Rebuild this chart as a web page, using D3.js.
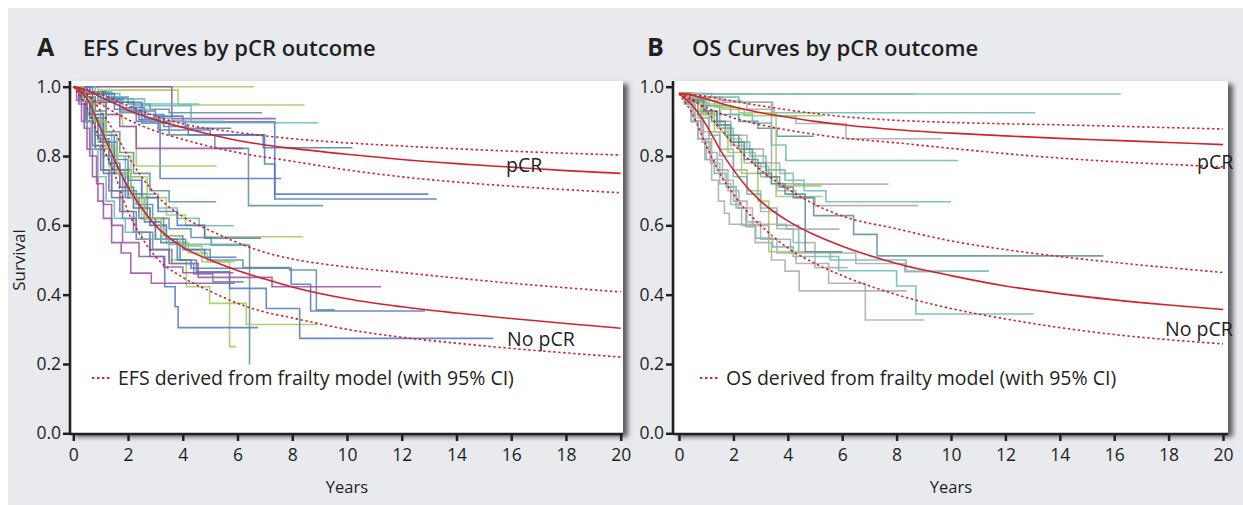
<!DOCTYPE html>
<html>
<head>
<meta charset="utf-8">
<script src="https://cdn.jsdelivr.net/npm/d3@7"></script>
<style>
  body { margin: 0; background: #fff; }
  text { font-family: "Open Sans", "Noto Sans", sans-serif; fill: #231f20; }
</style>
</head>
<body>
<div id="chart"></div>
<script>
// ---- data ----
var yearTicks = [0, 2, 4, 6, 8, 10, 12, 14, 16, 18, 20];
var survivalTicks = [0, 0.2, 0.4, 0.6, 0.8, 1.0];

// frailty model curves [years, survival]
var efsModelPcr = [[0,1],[0.5,0.99],[1,0.97],[1.5,0.952],[2,0.932],[3,0.905],[4,0.882],[5,0.862],[6,0.845],[7,0.832],[8,0.822],[10,0.805],[12,0.79],[14,0.778],[16,0.768],[18,0.758],[20,0.75]];
var efsModelPcrHi = [[0,1],[1,0.978],[2,0.945],[3,0.915],[4,0.893],[6,0.868],[8,0.85],[10,0.838],[12,0.829],[14,0.821],[16,0.814],[18,0.808],[20,0.803]];
var efsModelPcrLo = [[0,1],[0.5,0.975],[1,0.95],[2,0.905],[3,0.872],[4,0.848],[6,0.81],[8,0.785],[10,0.76],[12,0.74],[14,0.725],[16,0.713],[18,0.703],[20,0.694]];
var efsModelNo = [[0,1],[0.5,0.965],[1,0.88],[1.5,0.79],[2,0.71],[2.5,0.65],[3,0.6],[4,0.537],[5,0.5],[6,0.47],[7,0.445],[8,0.422],[10,0.388],[12,0.365],[14,0.347],[16,0.331],[18,0.317],[20,0.303]];
var efsModelNoHi = [[0,1],[0.5,0.98],[1,0.93],[1.5,0.87],[2,0.8],[2.5,0.74],[3,0.69],[4,0.625],[5,0.585],[6,0.55],[7,0.522],[8,0.503],[10,0.48],[12,0.464],[14,0.448],[16,0.433],[18,0.42],[20,0.408]];
var efsModelNoLo = [[0,1],[0.5,0.94],[1,0.84],[1.5,0.75],[2,0.64],[2.5,0.565],[3,0.51],[4,0.45],[5,0.41],[6,0.375],[7,0.35],[8,0.333],[10,0.3],[12,0.277],[14,0.26],[16,0.245],[18,0.232],[20,0.22]];

var osModelPcr = [[0,0.98],[0.5,0.975],[1,0.965],[1.5,0.953],[2,0.942],[3,0.925],[4,0.912],[5,0.9],[6,0.89],[8,0.876],[10,0.866],[12,0.858],[14,0.851],[16,0.845],[18,0.839],[20,0.833]];
var osModelPcrHi = [[0,0.98],[1,0.972],[2,0.958],[3,0.945],[4,0.933],[6,0.914],[8,0.903],[10,0.897],[12,0.893],[14,0.89],[16,0.886],[18,0.882],[20,0.878]];
var osModelPcrLo = [[0,0.98],[1,0.94],[2,0.91],[3,0.89],[4,0.875],[6,0.852],[8,0.838],[10,0.822],[12,0.807],[14,0.794],[16,0.784],[18,0.776],[20,0.769]];
var osModelNo = [[0,0.98],[0.5,0.945],[1,0.89],[1.5,0.82],[2,0.76],[2.5,0.71],[3,0.67],[4,0.613],[5,0.572],[6,0.54],[7,0.513],[8,0.49],[10,0.455],[12,0.425],[14,0.403],[16,0.385],[18,0.37],[20,0.357]];
var osModelNoHi = [[0,0.98],[0.5,0.965],[1,0.93],[1.5,0.88],[2,0.835],[3,0.76],[4,0.705],[5,0.66],[6,0.627],[8,0.59],[10,0.555],[12,0.53],[14,0.51],[16,0.493],[18,0.478],[20,0.464]];
var osModelNoLo = [[0,0.98],[0.5,0.92],[1,0.83],[1.5,0.75],[2,0.69],[2.5,0.64],[3,0.6],[4,0.535],[5,0.49],[6,0.455],[8,0.4],[10,0.36],[12,0.33],[14,0.305],[16,0.285],[18,0.27],[20,0.258]];

// trial-level Kaplan-Meier steps [years, survival], last point = censoring end
var efsKmPcr = [
  [[0,1],[6.6,1]],
  [[0,1],[0.9,0.99],[3.83,0.947],[8.45,0.947]],
  [[0,1],[3.6,0.908],[7.4,0.908]],
  [[0,1],[0.6,0.985],[1.4,0.965],[2.2,0.945],[4.3,0.896],[8.95,0.896]],
  [[0,1],[0.5,0.985],[1.2,0.97],[2.0,0.95],[2.8,0.935],[3.5,0.925],[6.9,0.925]],
  [[0,1],[0.8,0.98],[1.7,0.965],[2.6,0.95],[4.6,0.95]],
  [[0,1],[0.5,0.985],[1.1,0.965],[1.8,0.94],[2.6,0.91],[3.3,0.885],[4.2,0.861],[6.94,0.824],[10.2,0.824]],
  [[0,1],[0.4,0.985],[1.0,0.96],[1.7,0.93],[2.4,0.905],[3.17,0.735],[7.6,0.735]],
  [[0,1],[0.6,0.98],[1.3,0.955],[2.2,0.93],[3.0,0.915],[4.0,0.899],[7.36,0.676],[13.28,0.676]],
  [[0,1],[0.3,0.985],[0.9,0.96],[1.5,0.935],[2.3,0.9],[3.1,0.875],[5.0,0.861],[6.99,0.777],[7.36,0.69],[12.97,0.69]],
  [[0,1],[0.4,0.98],[1.0,0.955],[1.7,0.925],[2.5,0.895],[3.5,0.861],[5.17,0.822],[6.4,0.657],[9.12,0.657]],
  [[0,1],[0.3,0.98],[0.7,0.95],[1.2,0.92],[1.8,0.885],[2.3,0.771],[5.24,0.771]],
  [[0,1],[0.3,0.98],[0.7,0.955],[1.2,0.92],[1.7,0.885],[2.3,0.822],[6.2,0.822]],
  [[0,1],[0.7,0.98],[1.5,0.955],[2.5,0.92],[3.3,0.9],[4.1,0.88],[5.77,0.88]],
  [[0,1],[0.4,0.985],[1.0,0.96],[1.8,0.935],[2.7,0.91],[3.6,0.9],[5.5,0.9]]
];
var efsKmPcrColors = ["green","green","purple","teal","slate","teal","blue","blue","blue","blue","slate","green","purple","blue","teal"];

var efsKmNo = [
  [[0,1],[0.25,0.97],[0.5,0.92],[0.8,0.86],[1.1,0.8],[1.4,0.75],[1.8,0.7],[2.3,0.66],[2.9,0.62],[3.5,0.59],[4.3,0.565],[5.04,0.543],[6.44,0.2],[6.45,0.2]],
  [[0,1],[0.3,0.96],[0.6,0.9],[0.9,0.84],[1.3,0.77],[1.7,0.71],[2.2,0.65],[2.8,0.6],[3.4,0.55],[4.2,0.52],[4.9,0.495],[5.71,0.25],[5.96,0.25]],
  [[0,1],[0.25,0.96],[0.5,0.9],[0.8,0.82],[1.1,0.75],[1.4,0.68],[1.8,0.62],[2.3,0.56],[2.8,0.51],[3.34,0.423],[3.72,0.365],[3.83,0.305],[6.75,0.305]],
  [[0,1],[0.3,0.97],[0.7,0.9],[1.1,0.83],[1.5,0.76],[2.0,0.69],[2.5,0.62],[3.0,0.56],[3.5,0.5],[4.13,0.423],[4.98,0.375],[6.32,0.314],[8.94,0.314]],
  [[0,1],[0.3,0.97],[0.6,0.92],[1.0,0.84],[1.4,0.76],[1.9,0.68],[2.4,0.62],[3.0,0.56],[3.8,0.5],[4.5,0.466],[5.71,0.418],[7.05,0.36],[8.27,0.274],[15.35,0.274]],
  [[0,1],[0.35,0.96],[0.7,0.9],[1.1,0.82],[1.5,0.75],[2.0,0.68],[2.6,0.61],[3.2,0.55],[3.9,0.5],[4.3,0.476],[7.96,0.43],[8.67,0.353],[12.85,0.353]],
  [[0,1],[0.3,0.97],[0.7,0.91],[1.1,0.84],[1.6,0.76],[2.1,0.69],[2.7,0.62],[3.3,0.57],[4.0,0.53],[5.0,0.5],[6.2,0.478],[7.9,0.471],[8.88,0.356],[9.55,0.356]],
  [[0,1],[0.2,0.96],[0.45,0.9],[0.7,0.83],[1.0,0.76],[1.3,0.7],[1.7,0.64],[2.2,0.58],[2.8,0.53],[3.5,0.49],[4.56,0.45],[7.26,0.423],[11.25,0.423]],
  [[0,1],[0.12,0.96],[0.3,0.9],[0.5,0.82],[0.7,0.74],[0.9,0.67],[1.1,0.62],[1.4,0.55],[1.75,0.52],[2.1,0.462],[2.85,0.433],[5.9,0.433]],
  [[0,1],[0.3,0.97],[0.6,0.93],[1.0,0.87],[1.4,0.8],[1.9,0.74],[2.5,0.69],[3.1,0.65],[3.8,0.62],[4.6,0.599],[5.87,0.599]],
  [[0,1],[0.4,0.97],[0.8,0.92],[1.2,0.86],[1.6,0.8],[2.1,0.74],[2.7,0.68],[3.4,0.63],[4.1,0.6],[4.8,0.567],[8.39,0.567]],
  [[0,1],[0.3,0.97],[0.7,0.92],[1.1,0.86],[1.5,0.79],[2.0,0.73],[2.5,0.68],[3.1,0.64],[3.8,0.6],[4.8,0.563],[6.85,0.563]],
  [[0,1],[0.4,0.97],[0.8,0.93],[1.2,0.87],[1.7,0.81],[2.2,0.75],[2.8,0.7],[3.5,0.668],[5.22,0.668]],
  [[0,1],[0.2,0.96],[0.5,0.9],[0.8,0.83],[1.1,0.76],[1.4,0.7],[1.8,0.64],[2.3,0.58],[2.9,0.53],[3.6,0.49],[4.4,0.46],[5.1,0.437],[6.22,0.437]],
  [[0,1],[0.3,0.96],[0.6,0.91],[0.9,0.85],[1.3,0.78],[1.7,0.71],[2.2,0.65],[2.8,0.6],[3.4,0.56],[4.1,0.53],[4.8,0.508],[5.96,0.508]],
  [[0,1],[0.2,0.96],[0.4,0.9],[0.65,0.82],[0.9,0.74],[1.2,0.67],[1.5,0.62],[1.9,0.58],[2.5,0.56],[3.5,0.545],[6.3,0.545]],
  [[0,1],[0.2,0.95],[0.4,0.88],[0.6,0.8],[0.85,0.72],[1.1,0.66],[1.4,0.6],[1.8,0.55],[2.4,0.51],[3.3,0.48],[4.0,0.463],[5.85,0.463]],
  [[0,1],[0.35,0.96],[0.75,0.9],[1.2,0.82],[1.6,0.75],[2.1,0.68],[2.6,0.62],[3.2,0.57],[3.9,0.54],[4.7,0.495],[5.9,0.495]]
];
var efsKmNoColors = ["slate","green","blue","green","blue","blue","slate","purple","purple","teal","green","blue","slate","slate","blue","teal","purple","green"];

var osKmPcr = [
  [[0,0.979],[8.6,0.979]],
  [[0,0.979],[16.24,0.979]],
  [[0,0.98],[1.2,0.97],[2.2,0.955],[3.44,0.925],[13.1,0.925]],
  [[0,0.98],[0.8,0.97],[1.6,0.955],[2.5,0.935],[3.5,0.915],[4.3,0.894],[6.14,0.85],[9.66,0.85]],
  [[0,0.98],[0.5,0.965],[1.0,0.95],[1.6,0.935],[2.4,0.916],[5.28,0.916]],
  [[0,0.98],[0.4,0.965],[0.9,0.945],[1.5,0.92],[2.2,0.9],[2.9,0.88],[3.6,0.857],[4.97,0.857]],
  [[0,0.98],[0.5,0.965],[1.1,0.945],[1.9,0.92],[2.7,0.895],[3.4,0.832],[3.93,0.787],[10.27,0.787]],
  [[0,0.98],[0.4,0.96],[0.9,0.93],[1.4,0.9],[1.9,0.86],[2.5,0.82],[3.1,0.78],[3.7,0.75],[4.2,0.719],[7.7,0.719]],
  [[0,0.98],[0.4,0.955],[0.8,0.925],[1.3,0.89],[1.8,0.85],[2.3,0.81],[2.8,0.77],[3.3,0.74],[3.6,0.714],[5.25,0.714]],
  [[0,0.98],[0.6,0.96],[1.3,0.94],[2.2,0.925],[3.57,0.683],[5.28,0.683]],
  [[0,0.98],[0.5,0.955],[1.0,0.92],[1.5,0.88],[2.0,0.84],[2.6,0.8],[3.2,0.76],[3.9,0.73],[4.6,0.7],[5.4,0.668],[10.0,0.668]],
  [[0,0.98],[0.4,0.955],[0.9,0.92],[1.4,0.88],[1.9,0.83],[2.4,0.78],[3.0,0.74],[3.6,0.7],[4.3,0.68],[5.0,0.657],[8.8,0.657]],
  [[0,0.98],[0.6,0.97],[1.4,0.96],[2.3,0.955],[3.4,0.72],[4.5,0.72]]
];
var osKmPcrColors = ["grey","teal","teal","grey","green","slate","teal","grey","green","green","teal","grey","grey"];

var osKmNo = [
  [[0,0.98],[0.3,0.96],[0.7,0.93],[1.2,0.9],[1.7,0.86],[2.2,0.82],[2.7,0.78],[3.2,0.74],[3.7,0.71],[4.2,0.68],[4.95,0.628],[6.42,0.574],[7.28,0.512],[15.6,0.512]],
  [[0,0.98],[0.3,0.955],[0.7,0.91],[1.1,0.86],[1.5,0.8],[2.0,0.74],[2.5,0.69],[3.0,0.65],[3.6,0.6],[4.4,0.524],[5.56,0.5],[8.35,0.468],[11.4,0.468]],
  [[0,0.98],[0.2,0.95],[0.45,0.9],[0.7,0.85],[1.0,0.79],[1.3,0.75],[1.73,0.711],[2.1,0.65],[2.46,0.596],[2.82,0.563],[3.44,0.538],[4.2,0.51],[5.87,0.469],[8.0,0.425],[8.71,0.344],[13.04,0.344]],
  [[0,0.98],[0.3,0.95],[0.6,0.9],[0.9,0.85],[1.2,0.79],[1.6,0.73],[2.0,0.67],[2.5,0.61],[3.0,0.56],[3.6,0.52],[4.3,0.49],[5.5,0.433],[6.85,0.327],[9.02,0.327]],
  [[0,0.98],[0.25,0.95],[0.55,0.9],[0.85,0.84],[1.15,0.78],[1.5,0.72],[1.9,0.66],[2.3,0.6],[2.8,0.55],[3.4,0.5],[3.9,0.468],[4.42,0.411],[8.37,0.411]],
  [[0,0.98],[0.3,0.96],[0.7,0.92],[1.1,0.87],[1.5,0.82],[2.0,0.76],[2.5,0.7],[3.0,0.64],[3.6,0.59],[4.2,0.55],[5.0,0.52],[6.5,0.49],[8.3,0.466],[9.7,0.466]],
  [[0,0.98],[0.4,0.96],[0.8,0.92],[1.3,0.87],[1.8,0.81],[2.3,0.75],[2.9,0.67],[3.3,0.524],[6.02,0.524]],
  [[0,0.98],[0.4,0.96],[0.9,0.93],[1.4,0.89],[1.9,0.84],[2.4,0.79],[2.9,0.75],[3.4,0.72],[3.9,0.69],[4.64,0.524],[6.0,0.524]],
  [[0,0.98],[0.2,0.95],[0.45,0.9],[0.7,0.85],[0.95,0.79],[1.2,0.73],[1.45,0.67],[1.67,0.635],[1.85,0.603],[3.95,0.589],[5.9,0.589]],
  [[0,0.98],[0.25,0.955],[0.5,0.92],[0.8,0.87],[1.1,0.81],[1.4,0.76],[1.8,0.7],[2.2,0.65],[2.7,0.6],[3.3,0.56],[4.1,0.52],[5.0,0.478],[6.2,0.478]]
];
var osKmNoColors = ["slate","teal","teal","grey","grey","grey","green","slate","grey","grey"];

// ---- styles ----
var palette = {
  blue: "#4f74c4", purple: "#9a4ea6", green: "#9dcb5a", teal: "#66b9b5",
  slate: "#5d8c98", grey: "#a9a9a9"
};
var red = "#d2232a";
var ink = "#231f20";

var svg = d3.select("#chart").append("svg")
  .attr("width", 1243)
  .attr("height", 505);

// drop shadow for the plot boxes
var defs = svg.append("defs");
var filt = defs.append("filter").attr("id", "shadow")
  .attr("x", "-5%").attr("y", "-5%").attr("width", "115%").attr("height", "115%");
filt.append("feDropShadow")
  .attr("dx", 5).attr("dy", 3)
  .attr("stdDeviation", 2.5)
  .attr("flood-color", "#000")
  .attr("flood-opacity", 0.6);

svg.append("rect")
  .attr("x", 8).attr("y", 8)
  .attr("width", 1235).attr("height", 497)
  .attr("fill", "#e8eaee");

var panels = [
  {
    letter: "A", letterX: 37, title: "EFS Curves by pCR outcome", titleX: 83,
    box: [70, 81, 623, 434], xRange: [73.3, 620.7],
    legend: "EFS derived from frailty model (with 95% CI)", legendX: 92,
    yLabel: "Survival",
    models: [efsModelPcr, efsModelNo], cis: [efsModelPcrHi, efsModelPcrLo, efsModelNoHi, efsModelNoLo],
    km: [efsKmPcr, efsKmNo], kmColors: [efsKmPcrColors, efsKmNoColors],
    pcrLabel: [506, 172], noLabel: [507, 346]
  },
  {
    letter: "B", letterX: 647, title: "OS Curves by pCR outcome", titleX: 692,
    box: [673, 81, 1228, 434], xRange: [679, 1223],
    legend: "OS derived from frailty model (with 95% CI)", legendX: 700,
    yLabel: null,
    models: [osModelPcr, osModelNo], cis: [osModelPcrHi, osModelPcrLo, osModelNoHi, osModelNoLo],
    km: [osKmPcr, osKmNo], kmColors: [osKmPcrColors, osKmNoColors],
    pcrLabel: [1197, 169], noLabel: [1165, 336]
  }
];

panels.forEach(function (p) {
  var g = svg.append("g");
  var b = p.box;

  var x = d3.scaleLinear().domain([0, 20]).range(p.xRange);
  var y = d3.scaleLinear().domain([0, 1]).range([433.3, 86.7]);

  // titles
  g.append("text").attr("x", p.letterX).attr("y", 56)
    .attr("font-size", 25).attr("font-weight", 700).text(p.letter);
  g.append("text").attr("x", p.titleX).attr("y", 56)
    .attr("font-size", 22).attr("font-weight", 600).text(p.title);

  // plot box
  g.append("rect")
    .attr("x", b[0]).attr("y", b[1])
    .attr("width", b[2] - b[0]).attr("height", b[3] - b[1])
    .attr("fill", "#fff")
    .attr("filter", "url(#shadow)");

  // KM step curves
  var step = d3.line()
    .x(function (d) { return x(d[0]); })
    .y(function (d) { return y(d[1]); })
    .curve(d3.curveStepAfter);

  p.km.forEach(function (group, gi) {
    g.append("g").selectAll("path")
      .data(group)
      .enter()
      .append("path")
      .attr("d", step)
      .attr("fill", "none")
      .attr("stroke", function (d, i) { return palette[p.kmColors[gi][i]]; })
      .attr("stroke-width", 1.6)
      .attr("opacity", 0.85);
  });

  // frailty model curves
  var smooth = d3.line()
    .x(function (d) { return x(d[0]); })
    .y(function (d) { return y(d[1]); })
    .curve(d3.curveMonotoneX);

  g.append("g").selectAll("path")
    .data(p.cis)
    .enter()
    .append("path")
    .attr("d", smooth)
    .attr("fill", "none")
    .attr("stroke", red)
    .attr("stroke-width", 1.6)
    .attr("stroke-dasharray", "2.4,2.6");

  g.append("g").selectAll("path")
    .data(p.models)
    .enter()
    .append("path")
    .attr("d", smooth)
    .attr("fill", "none")
    .attr("stroke", red)
    .attr("stroke-width", 1.6);

  // curve labels
  g.append("text").attr("x", p.pcrLabel[0]).attr("y", p.pcrLabel[1])
    .attr("font-size", 19.5).text("pCR");
  g.append("text").attr("x", p.noLabel[0]).attr("y", p.noLabel[1])
    .attr("font-size", 19.5).text("No pCR");

  // legend
  g.append("line")
    .attr("x1", p.legendX).attr("x2", p.legendX + 18)
    .attr("y1", 378).attr("y2", 378)
    .attr("stroke", red).attr("stroke-width", 1.8)
    .attr("stroke-dasharray", "2.4,2.6");
  g.append("text").attr("x", p.legendX + 26).attr("y", 385)
    .attr("font-size", 19.5).text(p.legend);

  // axes
  var leftAxis = d3.axisLeft(y)
    .tickValues(survivalTicks)
    .tickFormat(d3.format(".1f"))
    .tickSize(7).tickSizeOuter(0).tickPadding(2);
  var bottomAxis = d3.axisBottom(x)
    .tickValues(yearTicks)
    .tickFormat(d3.format("d"))
    .tickSize(7).tickSizeOuter(0).tickPadding(8);

  var ya = g.append("g").attr("transform", "translate(" + b[0] + ",0)").call(leftAxis);
  var xa = g.append("g").attr("transform", "translate(0," + b[3] + ")").call(bottomAxis);
  [ya, xa].forEach(function (a) {
    a.select(".domain").remove();
    a.selectAll(".tick line").attr("stroke", ink).attr("stroke-width", 2.5);
    a.selectAll(".tick text")
      .attr("font-size", 17.5)
      .attr("font-family", "'Open Sans','Noto Sans',sans-serif")
      .attr("fill", ink);
  });

  // box axis lines
  g.append("line")
    .attr("x1", b[0]).attr("x2", b[0]).attr("y1", b[1]).attr("y2", b[3] + 1)
    .attr("stroke", ink).attr("stroke-width", 2.6);
  g.append("line")
    .attr("x1", b[0]).attr("x2", b[2]).attr("y1", b[3]).attr("y2", b[3])
    .attr("stroke", ink).attr("stroke-width", 2.6);

  // axis titles
  g.append("text")
    .attr("x", (p.xRange[0] + p.xRange[1]) / 2).attr("y", 493)
    .attr("text-anchor", "middle").attr("font-size", 16.5)
    .text("Years");
  if (p.yLabel) {
    g.append("text")
      .attr("transform", "translate(25,260) rotate(-90)")
      .attr("text-anchor", "middle").attr("font-size", 17)
      .text(p.yLabel);
  }
});
</script>
</body>
</html>
